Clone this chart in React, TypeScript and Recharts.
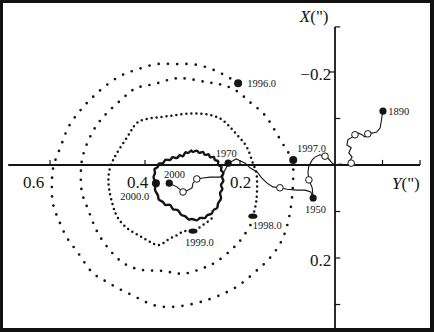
import { ScatterChart, Scatter, XAxis, YAxis, ReferenceLine } from 'recharts'

// [Y(''), X('')] pairs
const loop1996: [number, number][] = [
  [0.204, -0.176], [0.234, -0.194], [0.267, -0.209], [0.303, -0.217], [0.339, -0.217],
  [0.375, -0.217], [0.415, -0.206], [0.453, -0.191], [0.488, -0.166], [0.516, -0.14],
  [0.539, -0.114], [0.562, -0.08], [0.577, -0.041], [0.592, 0], [0.596, 0.039],
  [0.594, 0.082], [0.581, 0.12], [0.564, 0.157], [0.541, 0.189], [0.514, 0.228],
  [0.488, 0.247], [0.457, 0.265], [0.419, 0.284], [0.383, 0.301], [0.343, 0.305],
  [0.301, 0.299], [0.263, 0.288], [0.227, 0.273], [0.196, 0.254], [0.166, 0.228],
  [0.139, 0.202], [0.114, 0.166], [0.099, 0.123], [0.091, 0.075], [0.088, 0.028],
  [0.088, -0.011],
]

const loop1997: [number, number][] = [
  [0.088, -0.011], [0.099, -0.028], [0.112, -0.049], [0.131, -0.082], [0.152, -0.112],
  [0.179, -0.135], [0.204, -0.157], [0.236, -0.172], [0.269, -0.178], [0.307, -0.185],
  [0.343, -0.185], [0.381, -0.174], [0.417, -0.166], [0.444, -0.146], [0.474, -0.118],
  [0.497, -0.092], [0.516, -0.06], [0.531, -0.019], [0.535, 0.017], [0.533, 0.058],
  [0.522, 0.09], [0.509, 0.125], [0.493, 0.157], [0.469, 0.189], [0.442, 0.213],
  [0.404, 0.226], [0.362, 0.228], [0.322, 0.234], [0.284, 0.224], [0.251, 0.209],
  [0.217, 0.181], [0.194, 0.155], [0.175, 0.123], [0.173, 0.11],
]

const loop1998: [number, number][] = [
  [0.173, 0.11], [0.166, 0.08], [0.164, 0.043], [0.166, 0.015], [0.173, -0.004],
  [0.185, -0.037], [0.204, -0.062], [0.225, -0.086], [0.248, -0.103], [0.28, -0.11],
  [0.316, -0.11], [0.352, -0.105], [0.385, -0.101], [0.415, -0.092], [0.432, -0.069],
  [0.451, -0.039], [0.467, -0.011], [0.476, 0.017], [0.476, 0.049], [0.469, 0.082],
  [0.457, 0.114], [0.432, 0.14], [0.4, 0.159], [0.373, 0.172], [0.352, 0.161],
  [0.333, 0.151], [0.316, 0.142], [0.299, 0.142], [0.278, 0.129], [0.263, 0.118],
  [0.253, 0.108],
]

// bumpy (scalloped) last loop
const loop1999: [number, number][] = [
  [0.257, 0.097], [0.248, 0.092], [0.246, 0.082], [0.24, 0.072], [0.242, 0.06],
  [0.237, 0.052], [0.24, 0.043], [0.235, 0.034], [0.238, 0.026], [0.235, 0.017],
  [0.24, 0.011], [0.239, 0.004], [0.246, 0], [0.246, -0.008], [0.253, -0.011],
  [0.255, -0.017], [0.263, -0.017], [0.266, -0.023], [0.274, -0.022], [0.278, -0.028],
  [0.286, -0.026], [0.291, -0.031], [0.299, -0.028], [0.303, -0.031], [0.309, -0.026],
  [0.315, -0.027], [0.32, -0.019], [0.327, -0.021], [0.333, -0.015], [0.342, -0.017],
  [0.347, -0.011], [0.357, -0.011], [0.362, -0.004], [0.371, -0.003], [0.373, 0.004],
  [0.38, 0.009], [0.379, 0.017], [0.382, 0.027], [0.377, 0.039], [0.379, 0.053],
  [0.373, 0.065], [0.371, 0.074], [0.362, 0.08], [0.357, 0.086], [0.347, 0.086],
  [0.341, 0.095], [0.331, 0.097], [0.324, 0.107], [0.316, 0.11], [0.308, 0.117],
  [0.301, 0.116], [0.291, 0.119], [0.284, 0.114], [0.274, 0.114], [0.269, 0.108],
  [0.26, 0.105], [0.257, 0.097],
]

const drift: [number, number][] = [
  [-0.101, -0.116], [-0.099, -0.105], [-0.097, -0.092], [-0.095, -0.08], [-0.088, -0.071],
  [-0.08, -0.069], [-0.069, -0.067], [-0.063, -0.06], [-0.057, -0.065], [-0.048, -0.069],
  [-0.042, -0.065], [-0.036, -0.06], [-0.027, -0.054], [-0.025, -0.043], [-0.034, -0.037],
  [-0.029, -0.026], [-0.036, -0.017], [-0.032, -0.011], [-0.034, -0.004], [-0.025, 0],
  [-0.011, -0.002], [0, 0], [0.006, -0.004], [0.015, -0.015], [0.021, -0.019],
  [0.032, -0.022], [0.042, -0.017], [0.048, -0.011], [0.055, 0.002], [0.057, 0.015],
  [0.055, 0.032], [0.048, 0.049], [0.046, 0.071], [0.051, 0.058], [0.063, 0.054],
  [0.08, 0.054], [0.101, 0.052], [0.116, 0.049], [0.131, 0.047], [0.143, 0.039],
  [0.154, 0.028], [0.164, 0.015], [0.179, 0.006], [0.189, -0.004], [0.2, -0.009],
  [0.208, -0.013], [0.215, -0.009], [0.225, -0.004], [0.229, 0.006], [0.236, 0.019],
  [0.242, 0.026], [0.263, 0.026], [0.278, 0.028], [0.291, 0.03], [0.299, 0.039],
  [0.301, 0.049], [0.309, 0.054], [0.32, 0.058], [0.333, 0.047], [0.349, 0.039],
]

const driftCircles: [number, number][] = [
  [-0.069, -0.067], [-0.042, -0.065], [-0.034, -0.004], [0.021, -0.019],
  [0.055, 0.032], [0.116, 0.049], [0.291, 0.03], [0.32, 0.058],
]

const epochDots: [number, number][] = [
  [-0.101, -0.116], [0.046, 0.071], [0.225, -0.004], [0.349, 0.039],
]

const spiralMarks: [number, number][] = [
  [0.204, -0.176], [0.088, -0.011], [0.377, 0.039],
]

// 1998.0 and 1999.0 are drawn as flat blobs
const flatMarks: [number, number][] = [
  [0.173, 0.11], [0.299, 0.142],
]

const yearLabels = [
  { t: '1890', y: -0.112, x: -0.108 },
  { t: '1950', y: 0.063, x: 0.103 },
  { t: '1970', y: 0.251, x: -0.017 },
  { t: '2000', y: 0.36, x: 0.028 },
  { t: '1996.0', y: 0.185, x: -0.168 },
  { t: '1997.0', y: 0.08, x: -0.028 },
  { t: '1998.0', y: 0.173, x: 0.138 },
  { t: '1999.0', y: 0.316, x: 0.174 },
  { t: '2000.0', y: 0.452, x: 0.075 },
]

const tickLabels = [
  { t: '0.6', y: 0.657, x: 0.049, a: 'start' },
  { t: '0.4', y: 0.438, x: 0.049, a: 'start' },
  { t: '0.2', y: 0.221, x: 0.049, a: 'start' },
  { t: '\u22120.2', y: 0.008, x: -0.183, a: 'end' },
  { t: '0.2', y: 0.008, x: 0.217, a: 'end' },
]

const yTicks = [0.6, 0.4, 0.2, -0.1, -0.179]
const xTicksRight = [-0.297, -0.1, 0.1, 0.2, 0.3]
const xTicksLeft = [-0.2]

const pts = (rows: [number, number][]) => rows.map(([y, x]) => ({ y, x }))

const SERIF = "'Liberation Serif', 'DejaVu Serif', serif"
const INK = '#141414'

const none = () => <g />

export default function App() {
  return (
    <div style={{ position: 'absolute', left: 0, top: 0, width: 434, height: 332, background: '#fff' }}>
      <ScatterChart width={434} height={332} margin={{ top: 0, right: 0, bottom: 0, left: 0 }}>
        <XAxis type="number" dataKey="y" domain={[-0.2084, 0.7053]} reversed hide allowDataOverflow />
        <YAxis type="number" dataKey="x" domain={[-0.3548, 0.3591]} reversed hide allowDataOverflow />

        <ReferenceLine segment={[{ x: 0.688, y: 0 }, { x: -0.179, y: 0 }]} stroke={INK} strokeWidth={1.8} />
        <ReferenceLine segment={[{ x: 0, y: -0.297 }, { x: 0, y: 0.355 }]} stroke={INK} strokeWidth={1.8} />
        {yTicks.map((v) => (
          <ReferenceLine key={'yt' + v} segment={[{ x: v, y: 0 }, { x: v, y: -0.011 }]} stroke={INK} strokeWidth={1.2} />
        ))}
        {xTicksRight.map((v) => (
          <ReferenceLine key={'xr' + v} segment={[{ x: 0, y: v }, { x: -0.011, y: v }]} stroke={INK} strokeWidth={1.2} />
        ))}
        {xTicksLeft.map((v) => (
          <ReferenceLine key={'xl' + v} segment={[{ x: 0, y: v }, { x: 0.011, y: v }]} stroke={INK} strokeWidth={1.2} />
        ))}

        <Scatter data={pts(loop1996)} fill={INK} shape={none} isAnimationActive={false} lineJointType="natural"
          line={{ stroke: INK, strokeWidth: 2.7, strokeDasharray: '0 9.3', strokeLinecap: 'round' }} />
        <Scatter data={pts(loop1997)} fill={INK} shape={none} isAnimationActive={false} lineJointType="natural"
          line={{ stroke: INK, strokeWidth: 2.7, strokeDasharray: '0 9', strokeLinecap: 'round' }} />
        <Scatter data={pts(loop1998)} fill={INK} shape={none} isAnimationActive={false} lineJointType="natural"
          line={{ stroke: INK, strokeWidth: 2.5, strokeDasharray: '0 5', strokeLinecap: 'round' }} />
        <Scatter data={pts(loop1999)} fill={INK} shape={none} isAnimationActive={false} lineJointType="natural"
          line={{ stroke: INK, strokeWidth: 2.4, strokeLinejoin: 'round' }} />
        <Scatter data={pts(drift)} fill={INK} shape={none} isAnimationActive={false} lineJointType="linear"
          line={{ stroke: INK, strokeWidth: 1.1 }} />

        <Scatter data={pts(driftCircles)} isAnimationActive={false}
          shape={(p: any) => <circle cx={p.cx} cy={p.cy} r={3.3} fill="#fff" stroke={INK} strokeWidth={1} />} />
        <Scatter data={pts(epochDots)} isAnimationActive={false}
          shape={(p: any) => <circle cx={p.cx} cy={p.cy} r={3.6} fill={INK} />} />
        <Scatter data={pts(spiralMarks)} isAnimationActive={false}
          shape={(p: any) => <circle cx={p.cx} cy={p.cy} r={4} fill={INK} />} />
        <Scatter data={pts(flatMarks)} isAnimationActive={false}
          shape={(p: any) => <ellipse cx={p.cx} cy={p.cy} rx={4.5} ry={2.6} fill={INK} />} />

        <Scatter data={yearLabels} isAnimationActive={false}
          shape={(p: any) => (
            <text x={p.cx} y={p.cy} fontFamily={SERIF} fontSize={10.5} fill={INK}>{p.payload.t}</text>
          )} />
        <Scatter data={tickLabels} isAnimationActive={false}
          shape={(p: any) => (
            <text x={p.cx} y={p.cy} textAnchor={p.payload.a} fontFamily={SERIF} fontSize={17} fill={INK}>{p.payload.t}</text>
          )} />
        <Scatter data={[{ y: 0.074, x: -0.308 }]} isAnimationActive={false}
          shape={(p: any) => (
            <text x={p.cx} y={p.cy} fontFamily={SERIF} fontSize={17} fill={INK}>
              <tspan fontStyle="italic">X</tspan>(")
            </text>
          )} />
        <Scatter data={[{ y: -0.12, x: 0.052 }]} isAnimationActive={false}
          shape={(p: any) => (
            <text x={p.cx} y={p.cy} fontFamily={SERIF} fontSize={17} fill={INK}>
              <tspan fontStyle="italic">Y</tspan>(")
            </text>
          )} />
      </ScatterChart>
      <div style={{ position: 'absolute', left: 0, top: 0, width: 434, height: 332, boxSizing: 'border-box',
        borderStyle: 'solid', borderColor: '#111', borderWidth: '3px 4px 4px 3px', pointerEvents: 'none' }} />
    </div>
  )
}
